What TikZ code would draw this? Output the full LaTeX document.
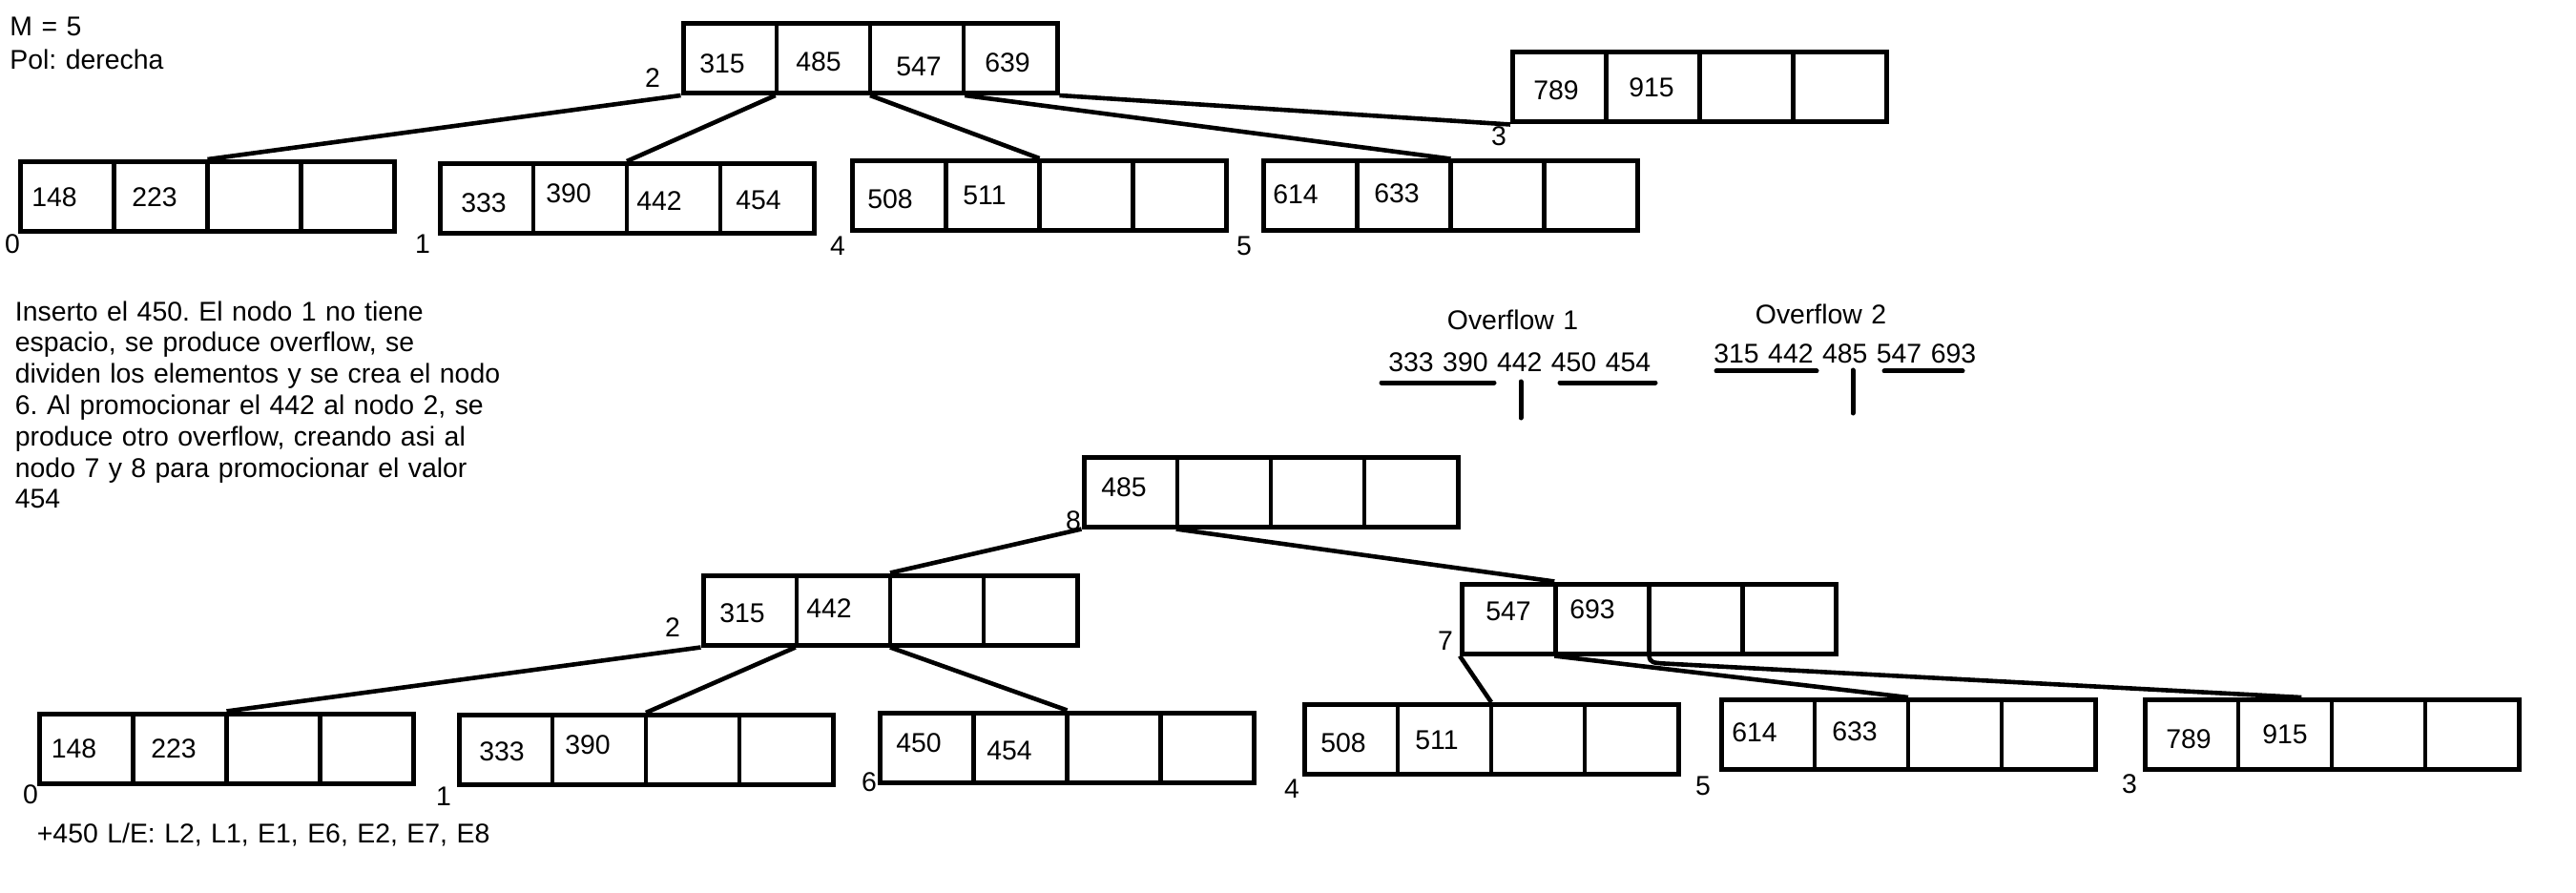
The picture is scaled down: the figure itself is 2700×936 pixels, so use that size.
\documentclass[tikz,border=0pt]{standalone}
\usepackage{fontspec}
\setmainfont{Liberation Sans}
\usetikzlibrary{calc}
\frenchspacing

\begin{document}
\begin{tikzpicture}[x=0.5pt,y=-0.5pt,font=\fontsize{14.2}{16.4}\selectfont]
	\tikzstyle{p-node}=[draw,line width=2.5pt,minimum width=196pt,minimum height=36.5pt,inner sep=0pt,
		path picture={\foreach \k in {1,2,3}
			\draw[line width=2.4pt] ($(path picture bounding box.north west)!\k/4!(path picture bounding box.north east)$)
				-- ($(path picture bounding box.south west)!\k/4!(path picture bounding box.south east)$);}]
	\tikzstyle{k-node}=[text height=0.716em,text depth=0pt,inner sep=0pt]
	\tikzstyle{n-node}=[text height=0.716em,text depth=0pt,inner sep=0pt]
	\tikzstyle{annot}=[text width=300pt,align=left,inner sep=0pt,anchor=base west]
	\tikzstyle{link}=[line width=2.3pt]
	\tikzstyle{split-line}=[line width=2.5pt,line cap=round]
	\useasboundingbox (0,0) rectangle (2700,936);

	% notes
	\node[annot] (mhead) at (10,38) {M = 5\\[0.8pt]Pol: derecha};
	\node[annot] (note) at (15.5,336) {Inserto el 450. El nodo 1 no tiene\\
		espacio, se produce overflow, se\\
		dividen los elementos y se crea el nodo\\
		6. Al promocionar el 442 al nodo 2, se\\
		produce otro overflow, creando asi al\\
		nodo 7 y 8 para promocionar el valor\\
		454};
	\node[annot] (trace) at (38.5,883) {+450 L/E: L2, L1, E1, E6, E2, E7, E8};

	% overflow splits
	\node[annot] (ov1) at (1516.5,345) {Overflow 1};
	\node[annot] (ov1keys) at (1455,390) {333 390 442 450 454};
	\node[annot] (ov2) at (1839.5,340) {Overflow 2};
	\node[annot] (ov2keys) at (1796,380) {315 442 485 547 693};
	\draw[split-line] (1448,401) -- (1566,401) (1635,401) -- (1735,401) (1594,400) -- (1594,438);
	\draw[split-line] (1799,389) -- (1904,389) (1975,389) -- (2057,389) (1942,388) -- (1942,433);

	% tree before the insertion
	\node[p-node] (a2) at (912,61) {};
	\node[p-node] (a0) at (217.5,206) {};
	\node[p-node] (a1) at (657,208) {};
	\node[p-node] (a4) at (1089.5,205) {};
	\node[p-node] (a5) at (1520.5,205.5) {};
	\node[p-node] (a3) at (1781.5,91.5) {};

	\node[k-node] (a2-1) at (757,69.5) {315};
	\node[k-node] (a2-2) at (858,67.5) {485};
	\node[k-node] (a2-3) at (963,72.5) {547};
	\node[k-node] (a2-4) at (1056,68.5) {639};
	\node[k-node] (a0-1) at (57,209) {148};
	\node[k-node] (a0-2) at (162,209) {223};
	\node[k-node] (a1-1) at (507,215) {333};
	\node[k-node] (a1-2) at (596,205) {390};
	\node[k-node] (a1-3) at (691,213.5) {442};
	\node[k-node] (a1-4) at (795,212) {454};
	\node[k-node] (a4-1) at (933,211) {508};
	\node[k-node] (a4-2) at (1032,207.5) {511};
	\node[k-node] (a5-1) at (1358,206) {614};
	\node[k-node] (a5-2) at (1464,205) {633};
	\node[k-node] (a3-1) at (1631,97.5) {789};
	\node[k-node] (a3-2) at (1731,94) {915};

	\node[n-node] (la2) at (684,84) {2};
	\node[n-node] (la0) at (13,258) {0};
	\node[n-node] (la1) at (443,258) {1};
	\node[n-node] (la4) at (878,260) {4};
	\node[n-node] (la5) at (1304,260) {5};
	\node[n-node] (la3) at (1571,145) {3};

	\path[link]
		(a2.south west)	edge	(a0.north)
		($(a2.south west)!.25!(a2.south east)$)	edge	(a1.north)
		(a2.south)	edge	(a4.north)
		($(a2.south west)!.75!(a2.south east)$)	edge	(a5.north)
		(a2.south east)	edge	(a3.south west);

	% tree after the insertion
	\node[p-node] (b8) at (1332,515.5) {};
	\node[p-node] (b2) at (933,639.5) {};
	\node[p-node] (b7) at (1728.5,648.5) {};
	\node[p-node] (b0) at (237.5,784.5) {};
	\node[p-node] (b1) at (677,786) {};
	\node[p-node] (b6) at (1118.5,783.5) {};
	\node[p-node] (b4) at (1563,775) {};
	\node[p-node] (b5) at (2000,770) {};
	\node[p-node] (b3) at (2444,770) {};

	\node[k-node] (b8-1) at (1178,513) {485};
	\node[k-node] (b2-1) at (778,645) {315};
	\node[k-node] (b2-2) at (869,640) {442};
	\node[k-node] (b7-1) at (1581,643) {547};
	\node[k-node] (b7-2) at (1669,641) {693};
	\node[k-node] (b0-1) at (77.5,787) {148};
	\node[k-node] (b0-2) at (182,787) {223};
	\node[k-node] (b1-1) at (526,790) {333};
	\node[k-node] (b1-2) at (616,783) {390};
	\node[k-node] (b6-1) at (963,781) {450};
	\node[k-node] (b6-2) at (1058,789) {454};
	\node[k-node] (b4-1) at (1408,781) {508};
	\node[k-node] (b4-2) at (1506,778) {511};
	\node[k-node] (b5-1) at (1839,770) {614};
	\node[k-node] (b5-2) at (1944,769) {633};
	\node[k-node] (b3-1) at (2294,777) {789};
	\node[k-node] (b3-2) at (2395,772) {915};

	\node[n-node] (lb8) at (1125,548) {8};
	\node[n-node] (lb2) at (705,660) {2};
	\node[n-node] (lb7) at (1515,674) {7};
	\node[n-node] (lb0) at (32,835) {0};
	\node[n-node] (lb1) at (465,837) {1};
	\node[n-node] (lb6) at (911,822) {6};
	\node[n-node] (lb4) at (1354,829) {4};
	\node[n-node] (lb5) at (1785,826) {5};
	\node[n-node] (lb3) at (2232,824) {3};

	\path[link]
		(b8.south west)	edge	(b2.north)
		($(b8.south west)!.25!(b8.south east)$)	edge	($(b7.north west)!.25!(b7.north east)$)
		%
		(b2.south west)	edge	(b0.north)
		($(b2.south west)!.25!(b2.south east)$)	edge	(b1.north)
		(b2.south)	edge	(b6.north)
		%
		(b7.south west)	edge	(b4.north)
		($(b7.south west)!.25!(b7.south east)$)	edge	(b5.north);
	\draw[link] (b7.south) .. controls +(1,7) and +(-12,-0.8) .. +(16,8)
		-- ($(b3.north west)!.42!(b3.north east)$);
\end{tikzpicture}
\end{document}
